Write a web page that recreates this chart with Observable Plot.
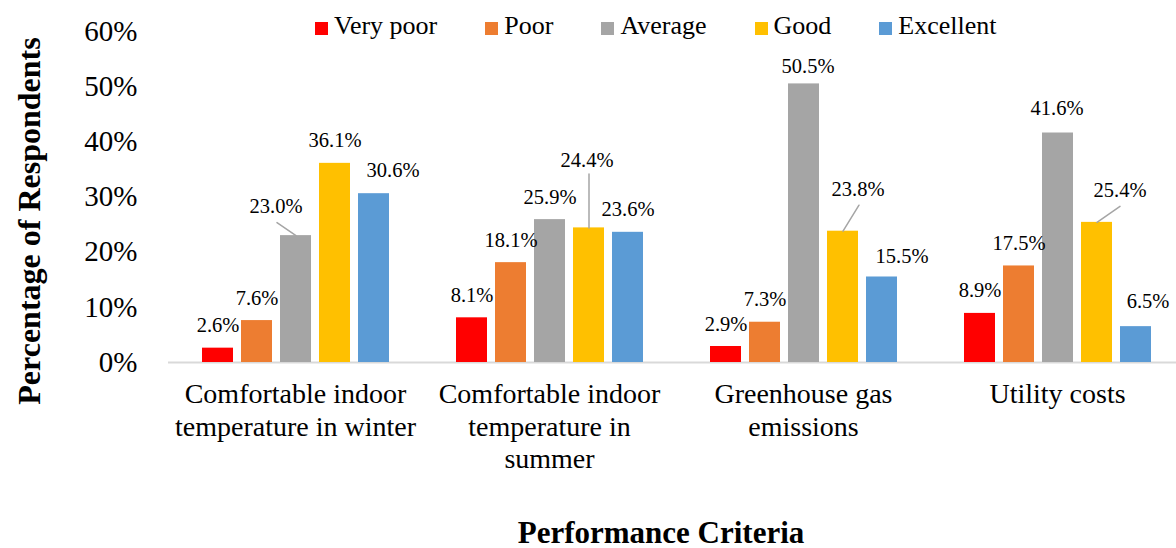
<!DOCTYPE html>
<html>
<head>
<meta charset="utf-8">
<script src="https://cdn.jsdelivr.net/npm/d3@7"></script>
<script src="https://cdn.jsdelivr.net/npm/@observablehq/plot@0.6"></script>
<style>
  html, body { margin: 0; padding: 0; background: #fff; overflow: hidden; }
  #wrap { position: relative; width: 1176px; height: 548px; font-family: "Liberation Serif", "Times New Roman", serif; color: #000; }
  #legend { position: absolute; left: 315px; top: 13px; display: flex; align-items: flex-start; font-size: 26px; line-height: 1; white-space: nowrap; }
  #legend .item { display: flex; align-items: flex-start; margin-right: 48px; }
  #legend .sw { width: 13px; height: 13px; margin-top: 9px; margin-right: 6px; }
  .ytitle { position: absolute; left: 29px; top: 221px; transform: translate(-50%, -50%) rotate(-90deg); font-size: 32px; font-weight: bold; line-height: 1; white-space: nowrap; }
  .xtitle { position: absolute; left: 661px; top: 517px; transform: translateX(-50%); font-size: 31px; font-weight: bold; line-height: 1; white-space: nowrap; }
</style>
</head>
<body>
<div id="wrap"></div>
<script>
// ---- data ----
const categories = [
  "Comfortable indoor temperature in winter",
  "Comfortable indoor temperature in summer",
  "Greenhouse gas emissions",
  "Utility costs"
];
const categoryTickLabels = [
  "Comfortable indoor\ntemperature in winter",
  "Comfortable indoor\ntemperature in\nsummer",
  "Greenhouse gas\nemissions",
  "Utility costs"
];
const series = ["Very poor", "Poor", "Average", "Good", "Excellent"];
const seriesColors = ["#FF0000", "#ED7D31", "#A5A5A5", "#FFC000", "#5B9BD5"];
const veryPoor  = [2.6, 8.1, 2.9, 8.9];
const poor      = [7.6, 18.1, 7.3, 17.5];
const average   = [23.0, 25.9, 50.5, 41.6];
const good      = [36.1, 24.4, 23.8, 25.4];
const excellent = [30.6, 23.6, 15.5, 6.5];
const yTicks = [0, 10, 20, 30, 40, 50, 60];
const yTitle = "Percentage of Respondents";
const xTitle = "Performance Criteria";

// manual label placements (pixel nudges, as in the original chart)
const labelNudges = [
  {cat: 0, ser: "Average",   dx: -20, dy: -23},
  {cat: 0, ser: "Excellent", dx: 19,  dy: -17},
  {cat: 1, ser: "Good",      dx: -2,  dy: -61},
  {cat: 2, ser: "Average",   dx: 4,   dy: -11},
  {cat: 2, ser: "Good",      dx: 15,  dy: -35},
  {cat: 2, ser: "Excellent", dx: 20,  dy: -14},
  {cat: 3, ser: "Average",   dx: -1,  dy: -18},
  {cat: 3, ser: "Good",      dx: 23,  dy: -25},
  {cat: 3, ser: "Excellent", dx: 12,  dy: -19}
];
// leader lines: end point offset (pixels) from the bar top
const leaders = [
  {cat: 0, ser: "Average", ex: -19, ey: -13},
  {cat: 1, ser: "Good",    ex: 0,   ey: -54},
  {cat: 2, ser: "Good",    ex: 16,  ey: -26},
  {cat: 3, ser: "Good",    ex: 23,  ey: -16}
];

// ---- table ----
const valuesBySeries = [veryPoor, poor, average, good, excellent];
const table = [];
categories.forEach((c, i) => {
  series.forEach((s, j) => {
    table.push({category: c, series: s, value: valuesBySeries[j][i]});
  });
});
const isKey = (d, k) => d.category === categories[k.cat] && d.series === k.ser;
const nudged = d => labelNudges.some(k => isKey(d, k));
const fmt = d => d.value.toFixed(1) + "%";
const serif = '"Liberation Serif", "Times New Roman", serif';

const textBase = {fx: "category", x: "series", y: "value", text: fmt, lineAnchor: "bottom", textAnchor: "middle", fontSize: 20.5, fontFamily: serif, fill: "#000"};

const marks = [
  Plot.ruleY([0], {stroke: "#D9D9D9", strokeWidth: 2}),
  Plot.barY(table, {fx: "category", x: "series", y: "value", fill: "series"}),
  ...leaders.map(k => Plot.vector(table, {
    filter: d => isKey(d, k),
    fx: "category", x: "series", y: "value",
    anchor: "start",
    length: Math.hypot(k.ex, k.ey),
    rotate: Math.atan2(k.ex, -k.ey) * 180 / Math.PI,
    shape: {draw(context, l) { context.moveTo(0, 0); context.lineTo(0, -l); }},
    stroke: "#A5A5A5", strokeWidth: 1.5
  })),
  Plot.text(table, {...textBase, filter: d => !nudged(d), dy: -16}),
  ...labelNudges.map(k => Plot.text(table, {...textBase, filter: d => isKey(d, k), dx: k.dx, dy: k.dy})),
  Plot.axisY({ticks: yTicks, tickFormat: d => d + "%", tickSize: 0, tickPadding: 31, fontSize: 29, fontFamily: serif, label: null, fill: "#000"}),
  Plot.axisFx({anchor: "bottom", tickSize: 0, tickPadding: 18, fontSize: 28, fontFamily: serif, lineHeight: 1.15, label: null, fill: "#000",
    tickFormat: d => categoryTickLabels[categories.indexOf(d)]})
];

const chart = Plot.plot({
  width: 1176,
  height: 548,
  marginLeft: 168,
  marginRight: -8,
  marginTop: 31,
  marginBottom: 186,
  style: {fontFamily: serif, background: "#fff", color: "#000", overflow: "visible"},
  fx: {domain: categories, padding: 0},
  x: {domain: series, paddingInner: 0.21, paddingOuter: 0.86, axis: null},
  y: {domain: [0, 60]},
  color: {domain: series, range: seriesColors},
  marks
});

const wrap = document.getElementById("wrap");
wrap.appendChild(chart);

// legend
const legend = document.createElement("div");
legend.id = "legend";
series.forEach((s, i) => {
  const item = document.createElement("div");
  item.className = "item";
  const sw = document.createElement("span");
  sw.className = "sw";
  sw.style.background = seriesColors[i];
  const lab = document.createElement("span");
  lab.textContent = s;
  item.appendChild(sw);
  item.appendChild(lab);
  legend.appendChild(item);
});
wrap.appendChild(legend);

const yt = document.createElement("div");
yt.className = "ytitle";
yt.textContent = yTitle;
wrap.appendChild(yt);

const xt = document.createElement("div");
xt.className = "xtitle";
xt.textContent = xTitle;
wrap.appendChild(xt);
</script>
</body>
</html>
